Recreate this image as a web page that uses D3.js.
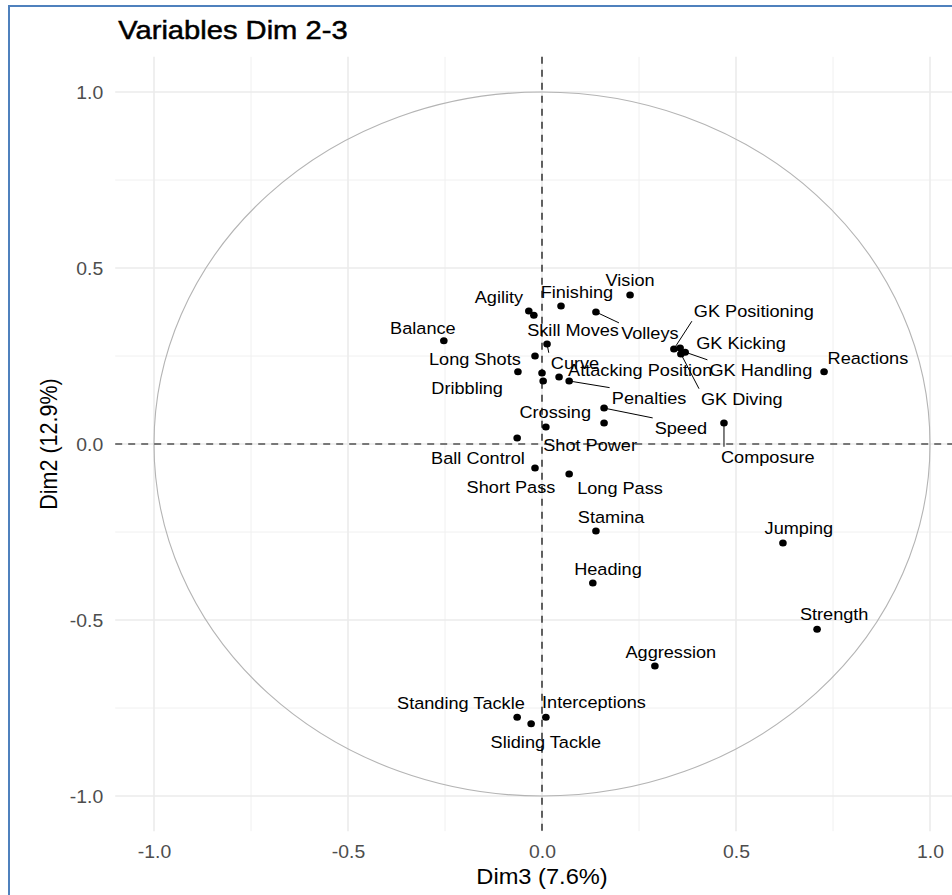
<!DOCTYPE html>
<html><head><meta charset="utf-8">
<script src="https://cdn.jsdelivr.net/npm/d3@7"></script>
<style>
body{margin:0;background:#fff;overflow:hidden;}
svg{display:block;}
text{font-family:"Liberation Sans", Arial, sans-serif;}
</style>
</head><body>
<script>
// ---- data ----
const variables = ["Vision","Finishing","Agility","Skill Moves","Volleys","Balance","Curve","Long Shots","Dribbling","","","Attacking Position","Penalties","Speed","Shot Power","Crossing","Ball Control","Short Pass","Long Pass","GK Positioning","GK Kicking","GK Handling","GK Diving","Reactions","Composure","Stamina","Jumping","Heading","Strength","Aggression","Standing Tackle","Sliding Tackle","Interceptions"];
const dim3 = [0.227,0.049,-0.034,-0.021,0.139,-0.253,0.013,-0.018,-0.062,0.000,0.003,0.044,0.070,0.160,0.160,0.010,-0.064,-0.018,0.070,0.340,0.356,0.369,0.358,0.727,0.469,0.139,0.621,0.131,0.709,0.291,-0.064,-0.028,0.010];
const dim2 = [0.423,0.392,0.378,0.366,0.375,0.293,0.284,0.250,0.205,0.202,0.179,0.190,0.179,0.102,0.060,0.048,0.017,-0.068,-0.085,0.270,0.273,0.261,0.256,0.205,0.060,-0.247,-0.281,-0.395,-0.526,-0.631,-0.776,-0.795,-0.776];
// repelled label anchors (data units)
const labelDim3 = [0.227,0.090,-0.111,0.080,0.278,-0.307,0.085,-0.173,-0.193,null,null,0.253,0.276,0.358,0.124,0.034,-0.165,-0.080,0.201,0.546,0.513,0.564,0.515,0.840,0.582,0.178,0.662,0.170,0.753,0.332,-0.209,0.010,0.134];
const labelDim2 = [0.466,0.432,0.418,0.324,0.315,0.330,0.230,0.241,0.159,null,null,0.210,0.131,0.045,-0.003,0.091,-0.040,-0.122,-0.125,0.378,0.287,0.210,0.128,0.244,-0.037,-0.207,-0.239,-0.355,-0.483,-0.591,-0.736,-0.847,-0.733];
const segmentLabels = ["Volleys","Curve","Penalties","Speed","GK Positioning","GK Handling","GK Diving","Composure"];
const majorTicks = [-1,-0.5,0,0.5,1];
const minorTicks = [-0.75,-0.25,0.25,0.75];
const tickLabels = ["-1.0","-0.5","0.0","0.5","1.0"];
const title = "Variables Dim 2-3";
const xTitle = "Dim3 (7.6%)";
const yTitle = "Dim2 (12.9%)";

// ---- layout ----
const W = 952, H = 895, SX = 1.1;
const x = d3.scaleLinear().domain([-1.1,1.1]).range([542-1.1*388, 542+1.1*388]);
const y = d3.scaleLinear().domain([-1.1,1.1]).range([444+1.1*352, 444-1.1*352]);
const [px0, px1] = x.range();
const [py0, py1] = [y.range()[1], y.range()[0]];

const svg = d3.select("body").append("svg").attr("width", W).attr("height", H);
svg.append("rect").attr("width", W).attr("height", H).attr("fill", "#fff");

function sText(g, tx, ty, str, size, anchor) {
  return g.append("text")
    .attr("transform", `translate(${tx},${ty}) scale(${SX},1)`)
    .attr("text-anchor", anchor).attr("font-size", size).text(str);
}

const grid = svg.append("g");
// minor grid
grid.selectAll(".mx").data(minorTicks).join("line")
  .attr("x1", d => x(d)).attr("x2", d => x(d)).attr("y1", py0).attr("y2", py1)
  .attr("stroke", "#f0f0f0").attr("stroke-width", 1);
grid.selectAll(".my").data(minorTicks).join("line")
  .attr("y1", d => y(d)).attr("y2", d => y(d)).attr("x1", px0).attr("x2", px1)
  .attr("stroke", "#f0f0f0").attr("stroke-width", 1);
// major grid
grid.selectAll(".Mx").data(majorTicks).join("line")
  .attr("x1", d => x(d)).attr("x2", d => x(d)).attr("y1", py0).attr("y2", py1)
  .attr("stroke", "#ebebeb").attr("stroke-width", 1.6);
grid.selectAll(".My").data(majorTicks).join("line")
  .attr("y1", d => y(d)).attr("y2", d => y(d)).attr("x1", px0).attr("x2", px1)
  .attr("stroke", "#ebebeb").attr("stroke-width", 1.6);

// correlation circle
svg.append("ellipse")
  .attr("cx", x(0)).attr("cy", y(0))
  .attr("rx", x(1)-x(0)).attr("ry", y(0)-y(1))
  .attr("fill", "none").attr("stroke", "#b4b4b4").attr("stroke-width", 1.1);

// dashed zero lines
svg.append("line").attr("x1", px0).attr("x2", px1).attr("y1", y(0)).attr("y2", y(0))
  .attr("stroke", "#000").attr("stroke-width", 1.2).attr("stroke-dasharray", "7,6");
svg.append("line").attr("x1", x(0)).attr("x2", x(0)).attr("y1", py0).attr("y2", py1)
  .attr("stroke", "#000").attr("stroke-width", 1.2).attr("stroke-dasharray", "7,6");

// axes
const xAxis = svg.append("g").attr("transform", `translate(0,${py1})`)
  .call(d3.axisBottom(x).tickValues(majorTicks).tickFormat((d,i) => tickLabels[i]).tickSize(0));
xAxis.select(".domain").remove();
xAxis.selectAll("text").attr("y", 0).attr("dy", 0)
  .attr("transform", `translate(0,27) scale(${SX},1)`)
  .attr("font-size", 17.6).attr("fill", "#4d4d4d").attr("font-family", null);

const yAxis = svg.append("g").attr("transform", `translate(${px0},0)`)
  .call(d3.axisLeft(y).tickValues(majorTicks).tickFormat((d,i) => tickLabels[i]).tickSize(0));
yAxis.select(".domain").remove();
yAxis.selectAll("text").attr("x", 0).attr("dy", 0)
  .attr("transform", `translate(-12,6.3) scale(${SX},1)`)
  .attr("font-size", 17.6).attr("fill", "#4d4d4d").attr("font-family", null);

// titles
sText(svg, x.range()[0] + 3, 39, title, 26.5, "start").attr("fill", "#000")
  .attr("stroke", "#000").attr("stroke-width", 0.5);
sText(svg, x(0), 884, xTitle, 21.5, "middle").attr("fill", "#000");
svg.append("text")
  .attr("transform", `translate(57,${y(0)}) scale(${SX},1) rotate(-90)`)
  .attr("text-anchor", "middle").attr("font-size", 21.5).attr("fill", "#000").text(yTitle);

// labels + segments
const LS = 16.5;
const nodes = variables.map((v,i) => ({name: v, x: dim3[i], y: dim2[i], lx: labelDim3[i], ly: labelDim2[i]}));
const segG = svg.append("g");
const labG = svg.append("g");
nodes.forEach(n => {
  if (!n.name) return;
  const cx = x(n.lx), cy = y(n.ly);
  const t = sText(labG, cx, cy + 0.36*LS, n.name, LS, "middle").attr("fill", "#000");
  if (segmentLabels.includes(n.name)) {
    const w = t.node().getBBox().width * SX;
    const pad = 2;
    const bx0 = cx - w/2 - pad, bx1 = cx + w/2 + pad;
    const by0 = cy - 0.5*LS - pad, by1 = cy + 0.5*LS + pad;
    const p = [x(n.x), y(n.y)];
    const ex = Math.max(bx0, Math.min(bx1, p[0]));
    const ey = Math.max(by0, Math.min(by1, p[1]));
    segG.append("line").attr("x1", p[0]).attr("y1", p[1]).attr("x2", ex).attr("y2", ey)
      .attr("stroke", "#000").attr("stroke-width", 1);
  }
});

// points
svg.append("g").selectAll("ellipse").data(nodes).join("ellipse")
  .attr("cx", d => x(d.x)).attr("cy", d => y(d.y))
  .attr("rx", 3.8).attr("ry", 3.5).attr("fill", "#000");

// page border
svg.append("path").attr("d", `M9,${H} V6 H${W}`)
  .attr("fill", "none").attr("stroke", "#4f81bd").attr("stroke-width", 2);
</script>
</body></html>
